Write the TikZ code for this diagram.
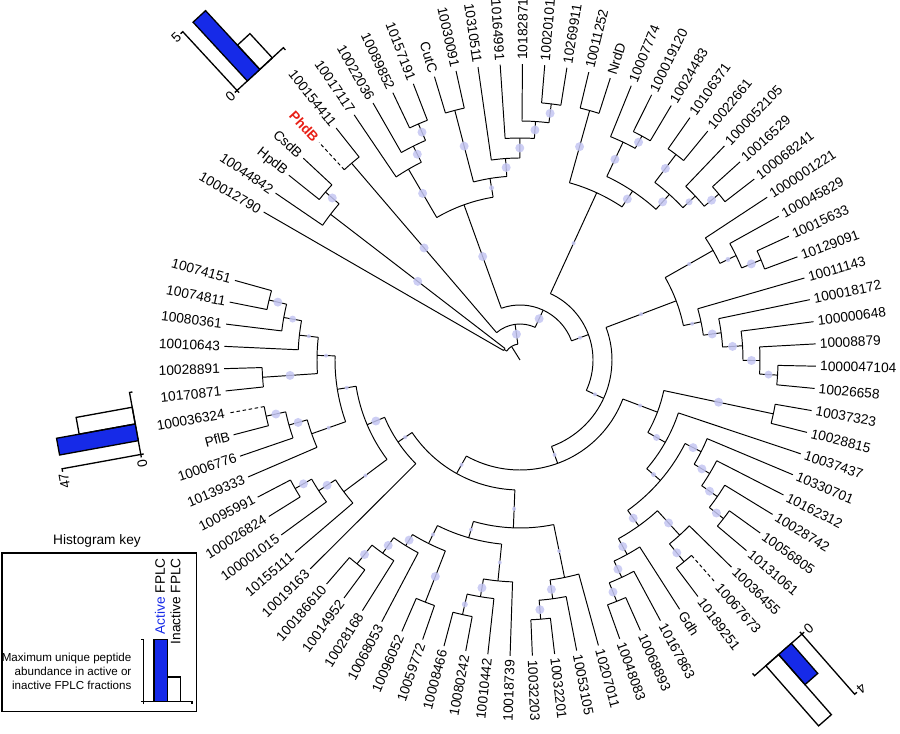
\documentclass[tikz,border=0pt]{standalone}
\usepackage{fontspec}
\setmainfont{Liberation Sans}

\definecolor{barblue}{RGB}{22,42,232}
\definecolor{suppcol}{RGB}{196,198,242}
\definecolor{phdred}{RGB}{232,32,22}

% one tip of the fan: index, label
\newcommand{\leaf}[2]{%
  \pgfmathsetmacro\angT{150-4.32*#1}%
  \expandafter\xdef\csname angt#1\endcsname{\angT}%
  \expandafter\xdef\csname radt#1\endcsname{296}%
  \coordinate (t#1) at (\angT:296);
  \pgfmathtruncatemacro\rside{cos(\angT)>0}%
  \ifnum\rside=1
    \node[tiplabel, anchor=west, rotate=\angT] (lab#1) at (\angT:300) {#2};
  \else
    \node[tiplabel, anchor=east, rotate=\angT+180] (lab#1) at (\angT:300) {#2};
  \fi
}

% inner node: name, radius, two children
\newcommand{\clade}[4]{%
  \pgfmathsetmacro\angA{\csname ang#3\endcsname}%
  \pgfmathsetmacro\angB{\csname ang#4\endcsname}%
  \pgfmathsetmacro\angM{(\angA+\angB)/2}%
  \expandafter\xdef\csname ang#1\endcsname{\angM}%
  \expandafter\xdef\csname rad#1\endcsname{#2}%
  \expandafter\xdef\csname par#3\endcsname{#2}%
  \expandafter\xdef\csname par#4\endcsname{#2}%
  \coordinate (#1) at (\angM:#2);
  \coordinate (#1a) at (\angA:#2);
  \coordinate (#1b) at (\angB:#2);
  \draw[branch] (#1a) arc[start angle=\angA, end angle=\angB, radius=#2];
  \draw[branch, tipdash #3/.try] (#1a) -- (#3);
  \draw[branch, tipdash #4/.try] (#1b) -- (#4);
}

% support dot half way along the branch into a node
\newcommand{\support}[2]{%
  \pgfmathsetmacro\dotA{\csname ang#1\endcsname}%
  \pgfmathsetmacro\dotR{(\csname par#1\endcsname+\csname rad#1\endcsname)/2}%
  \fill[supdot] (\dotA:\dotR) circle[radius=#2];
}

% small bar chart: active height, inactive height, name
\newcommand{\histbars}[3]{%
  \coordinate (#3) at (0,0);
  \draw[histline] (0,-3) -- (0,80) -- (-3,80);
  \draw[histline] (-3,0) -- (63,0) -- (63,-3);
  \filldraw[histline, fill=barblue] (14,0) rectangle (31,#1);
  \draw[histline] (31,0) rectangle (48,#2);
}

\begin{document}
\begin{tikzpicture}[x=0.02cm, y=0.02cm,
    branch/.style={line width=0.55pt},
    tipdash t4/.style={dash pattern=on 2pt off 1.5pt},
    tipdash t46/.style={dash pattern=on 2pt off 1.5pt},
    tipdash t74/.style={dash pattern=on 2pt off 1.5pt},
    tiplabel/.style={font=\fontsize{7.8}{9}\selectfont, inner sep=0pt},
    supdot/.style={fill=suppcol, fill opacity=0.85},
    histline/.style={line width=0.75pt},
    histnum/.style={font=\fontsize{7.8}{9}\selectfont, inner sep=1pt},
    keytext/.style={font=\fontsize{6.6}{8}\selectfont, inner sep=0pt}
]
    \useasboundingbox (-520,-374) rectangle (380,360);

    % Tips
    \foreach \txt [count=\i from 0] in {100012790, 10044842, HpdB, CsdB,
        {\textcolor{phdred}{\bfseries PhdB}}, 100154411, 10017117, 10022036,
        10089852, 10157191, CutC, 10030091, 10310511, 10164991, 10182871,
        10020101, 10269911, 10011252, NrdD, 10007774, 100019120, 10024483,
        10106371, 10022661, 1000052105, 10016529, 100068241, 1000001221,
        100045829, 10015633, 10129091, 10011143, 100018172, 100000648,
        10008879, 1000047104, 10026658, 10037323, 10028815, 10037437,
        10330701, 10162312, 10028742, 10056805, 10131061, 10036455,
        10067673, 10189251, Gdh, 10167863, 10068893, 10048083, 10207011,
        10053105, 10032201, 10032203, 10018739, 10010442, 10080242,
        10008466, 10059772, 10096052, 10068053, 10028168, 10014952,
        100186610, 10019163, 10155111, 100001015, 100026824, 10095991,
        10139333, 10006776, PflB, 100036324, 10170871, 10028891, 10010643,
        10080361, 10074811, 10074151} {
        \leaf{\i}{\txt}
    }

    % Top left
    \clade{cs}{257}{t2}{t3}
    \clade{hp}{239}{t1}{cs}
    \clade{nb}{19}{t0}{hp}
    \clade{ph}{259}{t4}{t5}
    % CutC group
    \clade{n1}{257}{t8}{t9}
    \clade{n2}{239}{t7}{n1}
    \clade{n3}{221}{t6}{n2}
    \clade{n4}{258}{t10}{t11}
    \clade{m1}{258}{t15}{t16}
    \clade{m2}{239}{t14}{m1}
    \clade{m3}{222}{t13}{m2}
    \clade{m4}{202}{t12}{m3}
    \clade{n5}{184}{n4}{m4}
    \clade{n6}{165}{n3}{n5}
    % NrdD group
    \clade{nr}{259}{t17}{t18}
    \clade{q1}{255}{t20}{t21}
    \clade{q2}{241}{t19}{q1}
    \clade{d1}{258}{t22}{t23}
    \clade{d2}{259}{t25}{t26}
    \clade{d3}{240}{t24}{d2}
    \clade{d4}{223}{d1}{d3}
    \clade{c2}{203}{q2}{d4}
    \clade{ns}{184}{nr}{c2}
    % Right
    \clade{r1}{261}{t29}{t30}
    \clade{r2}{240}{t28}{r1}
    \clade{r3}{222}{t27}{r2}
    \clade{s1}{258}{t35}{t36}
    \clade{s2}{240}{t34}{s1}
    \clade{s3}{223}{t33}{s2}
    \clade{s4}{203}{t32}{s3}
    \clade{s5}{185}{t31}{s4}
    \clade{rr}{167}{r3}{s5}
    % Gdh group
    \clade{e1}{259}{t37}{t38}
    \clade{i1}{258}{t43}{t44}
    \clade{i2}{240}{t42}{i1}
    \clade{i3}{221}{t41}{i2}
    \clade{i4}{203}{t40}{i3}
    \clade{k1}{260}{t46}{t47}
    \clade{k2}{237}{t45}{k1}
    \clade{l1}{260}{t50}{t51}
    \clade{l2}{240}{t49}{l1}
    \clade{l3}{222}{t48}{l2}
    \clade{jj}{204}{k2}{l3}
    \clade{hh}{185}{i4}{jj}
    \clade{gg}{167}{t39}{hh}
    \clade{ee}{147}{e1}{gg}
    % Bottom
    \clade{p1}{260}{t54}{t55}
    \clade{p2}{241}{t53}{p1}
    \clade{p3}{222}{t52}{p2}
    \clade{x1}{261}{t58}{t59}
    \clade{x2}{240}{t57}{x1}
    \clade{x3}{222}{t56}{x2}
    \clade{z1}{260}{t60}{t61}
    \clade{z2}{261}{t64}{t65}
    \clade{z3}{237}{t63}{z2}
    \clade{z4}{218}{t62}{z3}
    \clade{z5}{205}{z4}{z1}
    \clade{yy}{185}{x3}{z5}
    \clade{qq}{168}{p3}{yy}
    % PflB group
    \clade{w1}{259}{t69}{t70}
    \clade{w2}{240}{t68}{w1}
    \clade{w3}{220}{t67}{w2}
    \clade{u1}{258}{t79}{t80}
    \clade{u2}{240}{t78}{u1}
    \clade{u3}{222}{t77}{u2}
    \clade{u4}{258}{t75}{t76}
    \clade{u5}{203}{u3}{u4}
    \clade{v1}{260}{t73}{t74}
    \clade{v2}{240}{t72}{v1}
    \clade{v3}{221}{t71}{v2}
    \clade{g2}{185}{u5}{v3}
    \clade{vv}{166}{w3}{g2}
    \clade{tt}{147}{t66}{vv}
    % Backbone
    \clade{ss}{130}{qq}{tt}
    \clade{bb}{110}{ee}{ss}
    \clade{a3}{92}{rr}{bb}
    \clade{a2}{73}{ns}{a3}
    \clade{a1}{55}{n6}{a2}
    \clade{nc}{36}{ph}{a1}
    \clade{na}{16}{nb}{nc}
    \coordinate (root) at (0,0);
    \draw[branch] (root) -- (na);

    % Support
    \foreach \n/\s in {cs/4.5, hp/4.5, ph/4.5, n1/4.5, n2/4.5, n3/4.5, n4/4.5,
        n5/2.5, n6/4.5, m1/4.5, m2/4.5, m3/4.5, m4/4.5, nr/4.5, q1/4.5,
        q2/4.5, d1/4.5, d2/4.5, d3/3.5, d4/4.5, c2/4.5, ns/2, r1/4.5, r2/2.5,
        r3/2, rr/2, s1/4, s2/4.5, s3/4.5, s4/4.5, s5/2, e1/4.5, ee/2, gg/3.5,
        hh/2.5, i4/4.5, i3/4.5, i2/4.5, i1/4.5, jj/4.5, k2/4.5, k1/4.5,
        l3/4.5, l2/4.5, l1/4.5, bb/2, a3/2, a2/2, a1/4.5, nc/4.5, p3/2,
        p2/4.5, p1/4.5, qq/2, x3/2, x2/4.5, x1/3, z1/4.5, z5/2, z4/4.5,
        z3/4.5, z2/4.5, yy/2, ss/2, tt/2, vv/4.5, w3/2, w2/4.5, w1/4.5,
        u1/4.5, u2/3.5, u3/2, u4/4.5, u5/2, g2/2, v1/4.5, v2/4.5, v3/2} {
        \support{\n}{\s}
    }

    % Histograms
    \begin{scope}[rotate=42.72, shift={(-25,390)}, transform shape]
        \histbars{80}{33}{phdhist}
        \node[histnum, anchor=east] (phdzero) at (-3,0) {0};
        \node[histnum, anchor=east] (phdmax) at (-3,80) {5};
    \end{scope}
    \begin{scope}[rotate=100.32, shift={(-25,390)}, transform shape]
        \histbars{80}{57}{pflhist}
        \node[histnum, anchor=east] (pflzero) at (-3,0) {0};
        \node[histnum, anchor=east] (pflmax) at (-3,80) {47};
    \end{scope}
    \begin{scope}[rotate=-138.72, shift={(-31,392)}, transform shape]
        \histbars{40}{80}{gdhhist}
        \node[histnum, anchor=east] (gdhzero) at (-3,0) {0};
        \node[histnum, anchor=east] (gdhmax) at (-3,80) {4};
    \end{scope}

    % Key
    \draw[line width=0.6pt] (-518,-193) rectangle (-323.3,-351.7);
    \node[histnum] (keytitle) at (-423,-181) {Histogram key};
    \begin{scope}[shift={(-376.7,-341.7)}, scale=0.775]
        \histbars{80}{32}{keyhist}
    \end{scope}
    \node[keytext, align=right, anchor=east] (keynote) at (-388.3,-311)
        {Maximum unique peptide\\abundance in active or\\inactive FPLC fractions};
    \node[histnum, rotate=90, anchor=east] (keyact) at (-360,-196)
        {\textcolor{barblue}{Active} FPLC};
    \node[histnum, rotate=90, anchor=east] (keyinact) at (-344.5,-196)
        {Inactive FPLC};

\end{tikzpicture}
\end{document}
